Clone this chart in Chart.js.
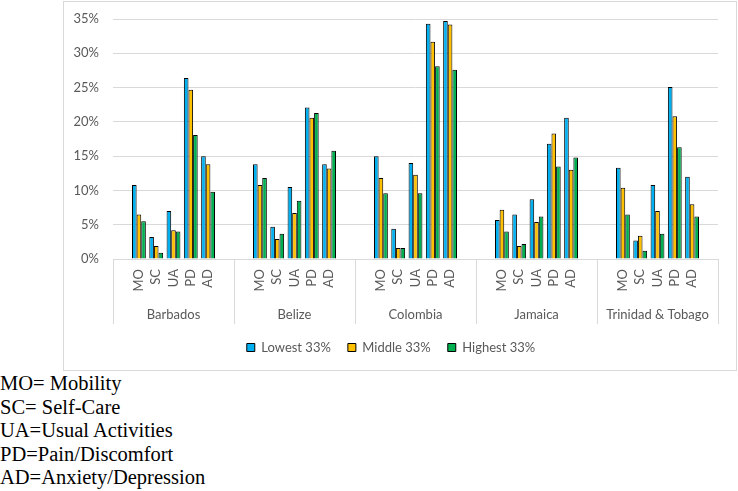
<!DOCTYPE html>
<html>
<head>
<meta charset="utf-8">
<script src="https://cdn.jsdelivr.net/npm/chart.js@4.4.1/dist/chart.umd.min.js"></script>
<style>
    body { margin: 0; background: #fff; }
    #frame {
        position: absolute; left: 63px; top: 1px;
        width: 674px; height: 370px;
        box-sizing: border-box; border: 1px solid #d9d9d9;
    }
    #notes {
        position: absolute; left: 0; top: 372px;
        font-family: "Liberation Serif", "Times New Roman", serif;
        font-size: 20.5px; line-height: 23.5px; color: #000;
    }
</style>
</head>
<body>
<div id="frame"><canvas id="myChart"></canvas></div>
<div id="notes">
    MO= Mobility<br>
    SC= Self-Care<br>
    UA=Usual Activities<br>
    PD=Pain/Discomfort<br>
    AD=Anxiety/Depression
</div>
<script>
// Categories
const countries = ['Barbados', 'Belize', 'Colombia', 'Jamaica', 'Trinidad & Tobago'];
const dimensions = ['MO', 'SC', 'UA', 'PD', 'AD'];
const yTicks = [0, 5, 10, 15, 20, 25, 30, 35];

// Percent values, per country in order MO, SC, UA, PD, AD
const lowest = [
    10.8, 3.2, 7.0, 26.4, 15.0,   // Barbados
    13.8, 4.7, 10.5, 22.1, 13.8,  // Belize
    15.0, 4.4, 14.0, 34.3, 34.7,  // Colombia
    5.7, 6.5, 8.7, 16.8, 20.6,    // Jamaica
    13.3, 2.7, 10.8, 25.1, 12.0   // Trinidad & Tobago
];
const middle = [
    6.5, 1.9, 4.2, 24.7, 13.8,
    10.8, 2.9, 6.7, 20.6, 13.2,
    11.8, 1.6, 12.3, 31.7, 34.2,
    7.2, 1.9, 5.4, 18.3, 13.0,
    10.4, 3.4, 7.0, 20.8, 8.0
];
const highest = [
    5.5, 0.9, 4.0, 18.1, 9.8,
    11.8, 3.7, 8.5, 21.3, 15.8,
    9.6, 1.6, 9.6, 28.1, 27.6,
    4.0, 2.2, 6.2, 13.5, 14.8,
    6.5, 1.2, 3.7, 16.3, 6.2
];

// Each country gets an empty slot before and after its five bars
const slotsPerCountry = dimensions.length + 2;
const labels = [];
countries.forEach(() => labels.push('', ...dimensions, ''));

function padded(values) {
    const out = [];
    countries.forEach((c, i) => {
        out.push(null, ...values.slice(i * 5, i * 5 + 5), null);
    });
    return out;
}

const textColor = '#595959';
const gridColor = '#d9d9d9';
const tickFont = { family: 'Lato', size: 13 };

// Vertical separators between country groups
const separators = {
    id: 'separators',
    afterDraw(chart) {
        const xs = chart.scales.x;
        const x2 = chart.scales.x2;
        const slot = (xs.right - xs.left) / labels.length;
        const c = chart.ctx;
        c.save();
        c.strokeStyle = gridColor;
        c.lineWidth = 1;
        for (let k = 0; k <= countries.length; k++) {
            const i = Math.min(k * slotsPerCountry, labels.length - 1);
            let x = xs.getPixelForValue(i) + (k === countries.length ? slot / 2 : -slot / 2);
            x = Math.round(x) + 0.5;
            c.beginPath();
            c.moveTo(x, chart.chartArea.bottom);
            c.lineTo(x, x2.bottom);
            c.stroke();
        }
        c.restore();
    }
};

const ctx = document.getElementById('myChart').getContext('2d');
const myChart = new Chart(ctx, {
    type: 'bar',
    data: {
        labels: labels,
        datasets: [
            { label: 'Lowest 33%', data: padded(lowest), backgroundColor: '#00B0F0' },
            { label: 'Middle 33%', data: padded(middle), backgroundColor: '#FFC000' },
            { label: 'Highest 33%', data: padded(highest), backgroundColor: '#00B050' }
        ].map(d => Object.assign(d, {
            borderColor: '#000', borderWidth: 1,
            categoryPercentage: 0.8, barPercentage: 1.0
        }))
    },
    options: {
        responsive: true,
        maintainAspectRatio: false,
        animation: false,
        layout: { padding: { top: 17, right: 18, left: 0, bottom: 6 } },
        plugins: {
            tooltip: { enabled: false },
            legend: {
                position: 'bottom',
                labels: {
                    boxWidth: 8, boxHeight: 8, padding: 17,
                    color: textColor, font: tickFont
                }
            }
        },
        scales: {
            x: {
                grid: { display: false, drawTicks: false },
                border: { display: false },
                ticks: {
                    autoSkip: false, maxRotation: 90, minRotation: 90,
                    padding: 10, color: textColor, font: tickFont
                },
                afterFit: s => { s.height = 38; }
            },
            x2: {
                type: 'category',
                labels: countries,
                position: 'bottom',
                offset: true,
                grid: { display: false, drawTicks: false },
                border: { display: false },
                ticks: { padding: 10, color: textColor, font: tickFont, maxRotation: 0 },
                afterFit: s => { s.height = 27; }
            },
            y: {
                min: 0, max: 35,
                afterBuildTicks: s => { s.ticks = yTicks.map(v => ({ value: v })); },
                grid: { color: gridColor, drawTicks: false },
                border: { display: false },
                ticks: {
                    padding: 14, color: textColor, font: tickFont,
                    callback: v => v + '%'
                },
                afterFit: s => { s.width = 49; s.paddingTop = 0; s.paddingBottom = 0; }
            }
        }
    },
    plugins: [separators]
});
</script>
</body>
</html>
